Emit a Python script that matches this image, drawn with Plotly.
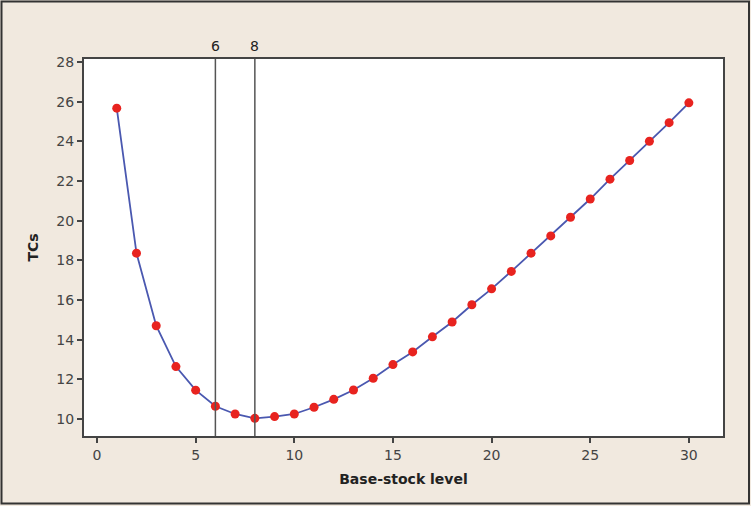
import plotly.graph_objects as go

base_stock = list(range(1, 31))
tcs = [25.67, 18.36, 14.70, 12.64, 11.45, 10.64, 10.25, 10.03, 10.12, 10.25,
       10.59, 10.99, 11.46, 12.05, 12.74, 13.38, 14.14, 14.89, 15.76, 16.56,
       17.44, 18.36, 19.23, 20.17, 21.09, 22.09, 23.03, 24.00, 24.94, 25.94]
ref_lines = [6, 8]
x_ticks = [0, 5, 10, 15, 20, 25, 30]
y_ticks = [10, 12, 14, 16, 18, 20, 22, 24, 26, 28]

W, H = 751, 506
ML, MR, MT, MB = 84, 28, 59, 70
PW, PH = W - ML - MR, H - MT - MB

fig = go.Figure()
fig.add_trace(go.Scatter(
    x=base_stock, y=tcs, mode="lines+markers",
    line=dict(color="#4a58b0", width=1.8),
    marker=dict(color="#e8231f", size=9),
    showlegend=False,
))

for v in ref_lines:
    fig.add_shape(type="line", xref="x", yref="paper", x0=v, x1=v, y0=0, y1=1,
                  line=dict(color="#555555", width=1.5))
    fig.add_annotation(x=v, y=1, xref="x", yref="paper", text=str(v),
                       showarrow=False, yanchor="bottom", yshift=3,
                       font=dict(family="DejaVu Sans", size=14, color="#222222"))

# outer frame
fig.add_shape(type="rect", xref="paper", yref="paper",
              x0=(1.5 - ML) / PW, x1=(749 - ML) / PW,
              y0=-(503.5 - MT - PH) / PH, y1=1 + (MT - 1.5) / PH,
              line=dict(color="#333333", width=2), layer="below")

fig.update_layout(
    width=W, height=H,
    margin=dict(l=ML, r=MR, t=MT, b=MB),
    paper_bgcolor="#f1e9df",
    plot_bgcolor="#ffffff",
    font=dict(family="DejaVu Sans", size=13, color="#333333"),
    xaxis=dict(range=[-0.66, 31.73], tickvals=x_ticks, ticks="outside",
               ticklen=5, tickwidth=1.5, tickcolor="#444444",
               showgrid=False, zeroline=False, showline=True, mirror=True,
               linecolor="#444444", linewidth=2, automargin=False,
               title=dict(text="<b>Base-stock level</b>", standoff=12,
                          font=dict(size=14, color="#222222")),
               tickfont=dict(size=14, color="#444444")),
    yaxis=dict(range=[9.14, 28.15], tickvals=y_ticks, ticks="outside",
               ticklen=5, tickwidth=1.5, tickcolor="#444444",
               showgrid=False, zeroline=False, showline=True, mirror=True,
               linecolor="#444444", linewidth=2, automargin=False,
               title=dict(text="<b>TCs</b>", standoff=14,
                          font=dict(size=14, color="#222222")),
               tickfont=dict(size=14, color="#444444")),
)

fig.write_html("out.html", config={"displayModeBar": False},
               post_script="document.body.style.margin='0';document.body.style.padding='0';")
